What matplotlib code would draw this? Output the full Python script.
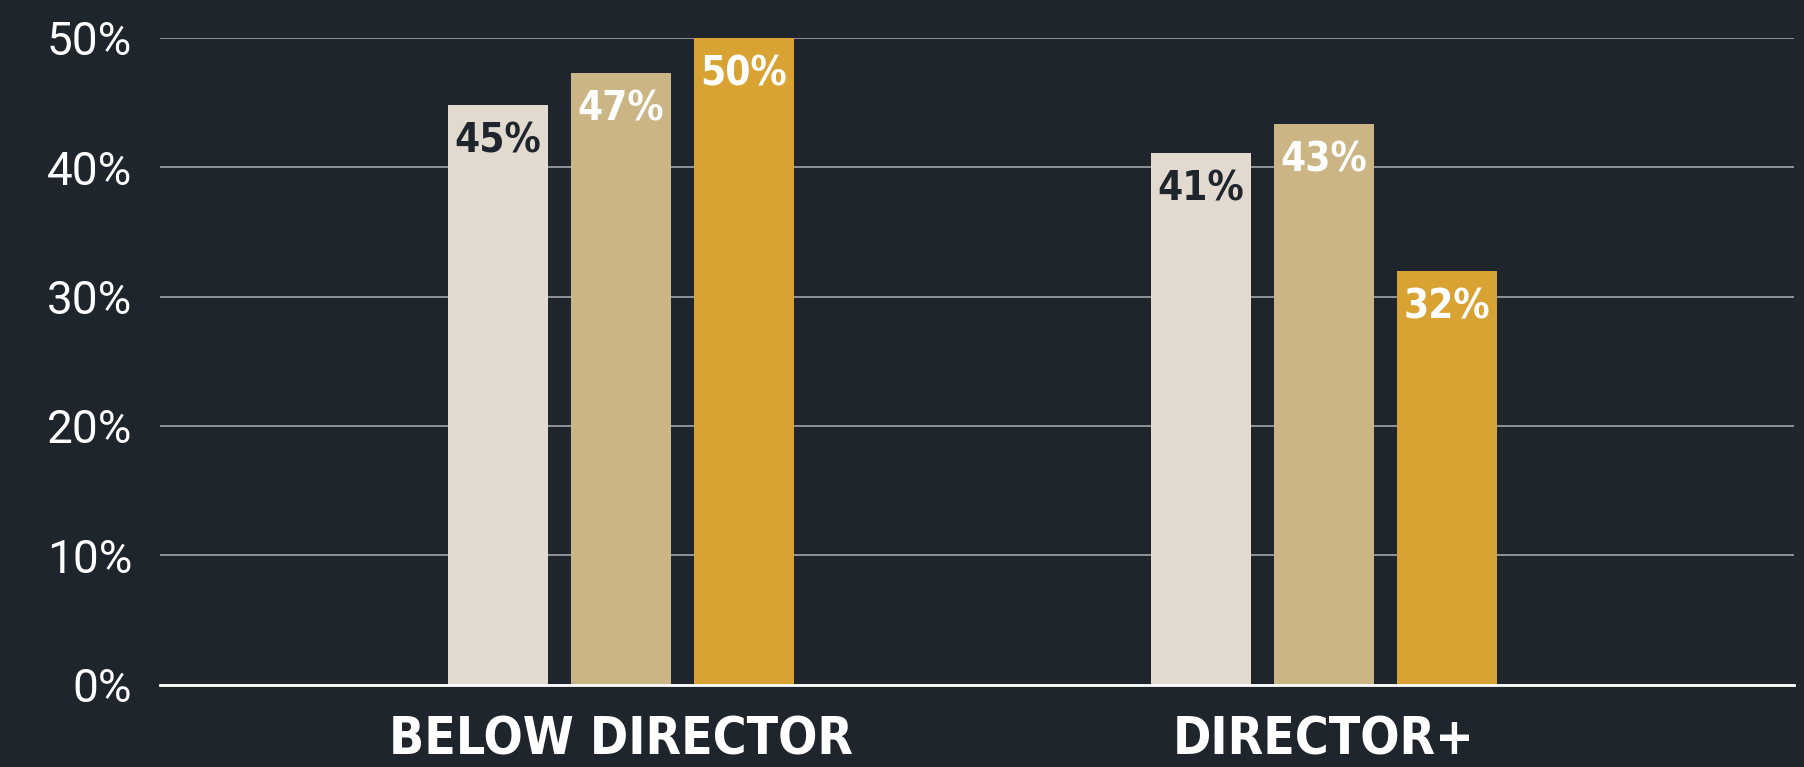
import numpy as np
import matplotlib
matplotlib.use("Agg")
import matplotlib.pyplot as plt

# Data
categories = ["BELOW DIRECTOR", "DIRECTOR+"]
series_a = [44.8, 41.1]
series_b = [47.3, 43.3]
series_c = [50.0, 32.0]
series_labels = [["45%", "41%"], ["47%", "43%"], ["50%", "32%"]]
y_ticks = [0, 10, 20, 30, 40, 50]

bg = "#1f252d"
bar_colors = ["#e2d9cf", "#cbb584", "#d8a332"]
label_colors = [bg, "white", "white"]

fig = plt.figure(figsize=(18.04, 7.67), dpi=100, facecolor=bg)
ax = fig.add_axes([0.0887, 0.107, 0.906, 0.844])
ax.set_facecolor(bg)

x = np.arange(len(categories))
width = 0.142
offset = 0.175

for i, vals in enumerate([series_a, series_b, series_c]):
    pos = x + (i - 1) * offset
    bars = ax.bar(pos, vals, width=width, color=bar_colors[i], zorder=3)
    for b, lab in zip(bars, series_labels[i]):
        ax.annotate(lab, (b.get_x() + b.get_width() / 2, b.get_height()),
                    xytext=(0, -12), textcoords="offset points",
                    ha="center", va="top", color=label_colors[i],
                    fontsize=29, fontweight="bold", family="DejaVu Sans",
                    fontstretch="condensed", zorder=4)

ax.set_xlim(-0.655, 1.669)
ax.set_ylim(0, 50)
ax.set_yticks(y_ticks)
ax.set_yticklabels([f"{t}%" for t in y_ticks], color="white", fontsize=33,
                   family="Roboto", fontweight="normal")
ax.yaxis.grid(True, color="#a3a6aa", linewidth=1.2, zorder=0)
ax.set_axisbelow(True)
ax.tick_params(axis="y", length=0, pad=20)

ax.set_xticks(x)
ax.set_xticklabels(categories, color="white", fontsize=37, fontweight="bold",
                   family="DejaVu Sans", fontstretch="condensed")
ax.tick_params(axis="x", length=0, pad=22)

for s in ["top", "right", "left"]:
    ax.spines[s].set_visible(False)
ax.spines["bottom"].set_color("white")
ax.spines["bottom"].set_linewidth(2)
ax.spines["bottom"].set_zorder(5)

fig.savefig("out.png", dpi=100, facecolor=bg)
